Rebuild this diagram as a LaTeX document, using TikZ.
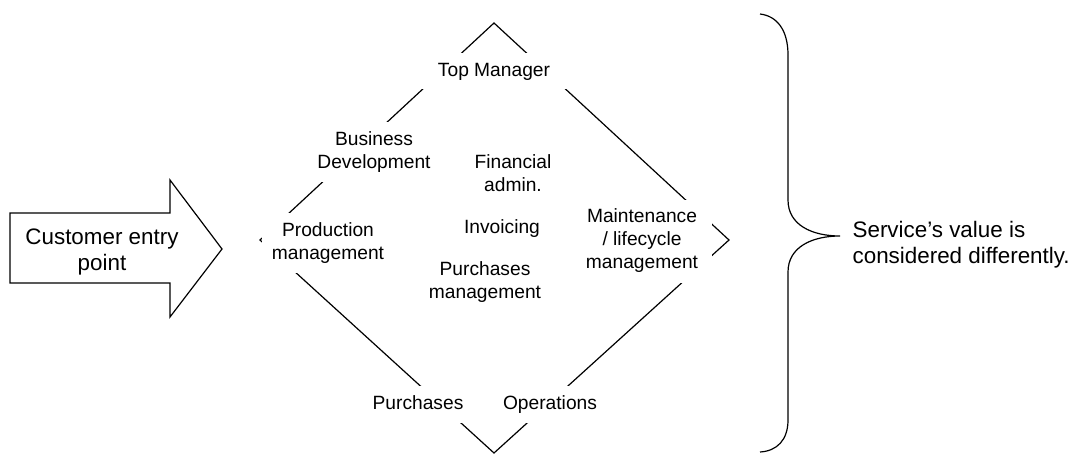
\documentclass[tikz,border=0pt]{standalone}
\usepackage{fontspec}
\setmainfont{Liberation Sans}
\usepackage{tikz}

\begin{document}
\begin{tikzpicture}[x=0.5pt,y=-0.5pt,line width=0.6pt,
  lbl/.style={align=center,inner sep=0pt,font=\fontsize{9.6}{11.5}\selectfont},
  one/.style={text height=7pt,text depth=2pt},
  cut/.style={lbl,fill=white},
  big/.style={inner sep=0pt,font=\fontsize{11.2}{13}\selectfont}]
\useasboundingbox (0,0) rectangle (1075,455);
% diamond
\coordinate (t) at (494,23);
\coordinate (r) at (729,240);
\coordinate (b) at (494,453);
\coordinate (l) at (260,240);
\draw[black] (t) -- (r) -- (b) -- (l) -- cycle;
\node[cut,one,minimum width=74pt,minimum height=18pt] (1) at (494,71) {Top Manager};
\node[cut,minimum width=62pt,minimum height=30pt] (2) at (374,152) {Business\\Development};
\node[cut,minimum width=66pt,minimum height=30pt] (3) at (328,243) {Production\\management};
\node[cut,minimum width=70pt,minimum height=41.5pt] (4) at (642,241) {Maintenance\\/ lifecycle\\management};
\node[cut,one,minimum width=50pt,minimum height=18.5pt] (5) at (418,404) {Purchases};
\node[cut,one,minimum width=52pt,minimum height=18.5pt] (6) at (550,404) {Operations};
\node[lbl] (7) at (513,173) {Financial\\admin.};
\node[lbl,one] (8) at (502,228) {Invoicing};
\node[lbl] (9) at (485,282) {Purchases\\management};
% entry arrow
\draw[black] (10,213) -- (170,213) -- (170,180) -- (222,249) -- (170,317) -- (170,283) -- (10,283) -- cycle;
\node[big,align=center] (0) at (102,252) {Customer entry\\point};
% brace
\coordinate (bt) at (840,236);
\draw[black] (760,14) .. controls (777,16) and (788,30) .. (788,55) -- (788,200)
  .. controls (788,225) and (812,236) .. (bt)
  .. controls (812,236) and (788,247) .. (788,272) -- (788,420)
  .. controls (788,440) and (777,451) .. (760,452);
\node[big,align=left,anchor=west] (10) at (852,245) {Service’s value is\\considered differently.};
\end{tikzpicture}
\end{document}
